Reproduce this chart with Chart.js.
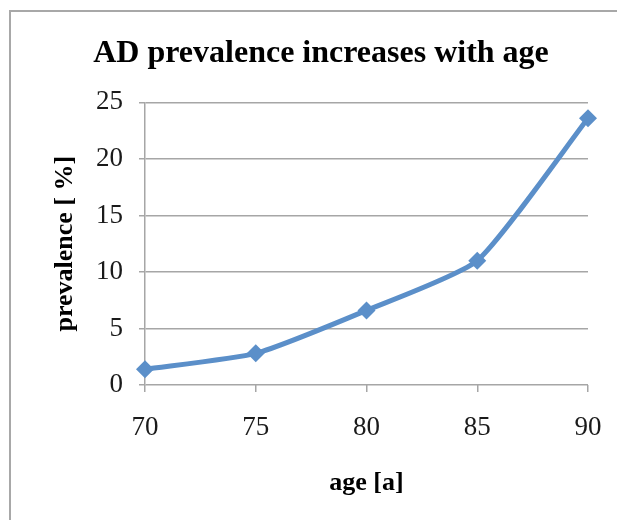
<!DOCTYPE html>
<html>
<head>
<meta charset="utf-8">
<script src="https://cdn.jsdelivr.net/npm/chart.js@4/dist/chart.umd.min.js"></script>
<style>
  html, body { margin: 0; padding: 0; background: #fff; }
  #wrap { position: relative; width: 617px; height: 520px; }
</style>
</head>
<body>
<div id="wrap"><canvas id="c" width="617" height="520"></canvas></div>
<script>
// Age groups (years) and Alzheimer's disease prevalence (%)
const ages = ['70', '75', '80', '85', '90'];
const prevalence = [1.4, 2.8, 6.6, 11.0, 23.6];
const yTicks = [0, 5, 10, 15, 20, 25];

const SERIF = '"Liberation Serif", "Times New Roman", serif';
const GRID = '#a6a6a6';
const LINE = '#5b8fc9';

// Thin grey frame around the whole chart area
const framePlugin = {
  id: 'frame',
  beforeDraw(chart) {
    const ctx = chart.ctx;
    ctx.save();
    ctx.fillStyle = '#fff';
    ctx.fillRect(0, 0, chart.width, chart.height);
    ctx.strokeStyle = '#a8a8a8';
    ctx.lineWidth = 2;
    ctx.strokeRect(10, 11, chart.width + 20, chart.height + 20);
    ctx.restore();
  }
};

new Chart(document.getElementById('c'), {
  type: 'line',
  data: {
    labels: ages,
    datasets: [{
      data: prevalence,
      borderColor: LINE,
      backgroundColor: LINE,
      borderWidth: 5,
      tension: 0.18,
      pointStyle: 'rectRot',
      pointRadius: 9,
      pointHoverRadius: 9,
      pointBorderWidth: 0,
      fill: false
    }]
  },
  options: {
    responsive: false,
    animation: false,
    events: [],
    layout: { padding: { left: 54, right: 29, top: 0, bottom: 0 } },
    plugins: {
      legend: { display: false },
      tooltip: { enabled: false },
      title: {
        display: true,
        text: 'AD prevalence increases with age',
        color: '#000',
        font: { family: SERIF, size: 32, weight: 'bold' },
        padding: { top: 35, bottom: 29 }
      }
    },
    scales: {
      x: {
        type: 'category',
        offset: false,
        afterFit(scale) {
          scale.height = 135;
          scale.paddingLeft = 0;
          scale.paddingRight = 0;
        },
        grid: { drawOnChartArea: false, drawTicks: true, tickLength: 7, color: GRID, lineWidth: 1.5 },
        border: { display: false },
        ticks: { color: '#1a1a1a', font: { family: SERIF, size: 27 }, padding: 20, maxRotation: 0 },
        title: {
          display: true,
          text: 'age [a]',
          color: '#000',
          font: { family: SERIF, size: 26, weight: 'bold' },
          padding: { top: 8, bottom: 21 }
        }
      },
      y: {
        min: 0,
        max: 25,
        afterFit(scale) { scale.width = 91; },
        afterBuildTicks(scale) { scale.ticks = yTicks.map(v => ({ value: v })); },
        grid: { color: GRID, lineWidth: 1.5, tickLength: 6 },
        border: { display: true, color: GRID, width: 1.5 },
        ticks: { color: '#1a1a1a', font: { family: SERIF, size: 27 }, padding: 16 },
        title: {
          display: true,
          text: 'prevalence [ %]',
          color: '#000',
          font: { family: SERIF, size: 26, weight: 'bold', lineHeight: 0.85 },
          padding: { top: 0, bottom: 0 }
        }
      }
    }
  },
  plugins: [framePlugin]
});
</script>
</body>
</html>
